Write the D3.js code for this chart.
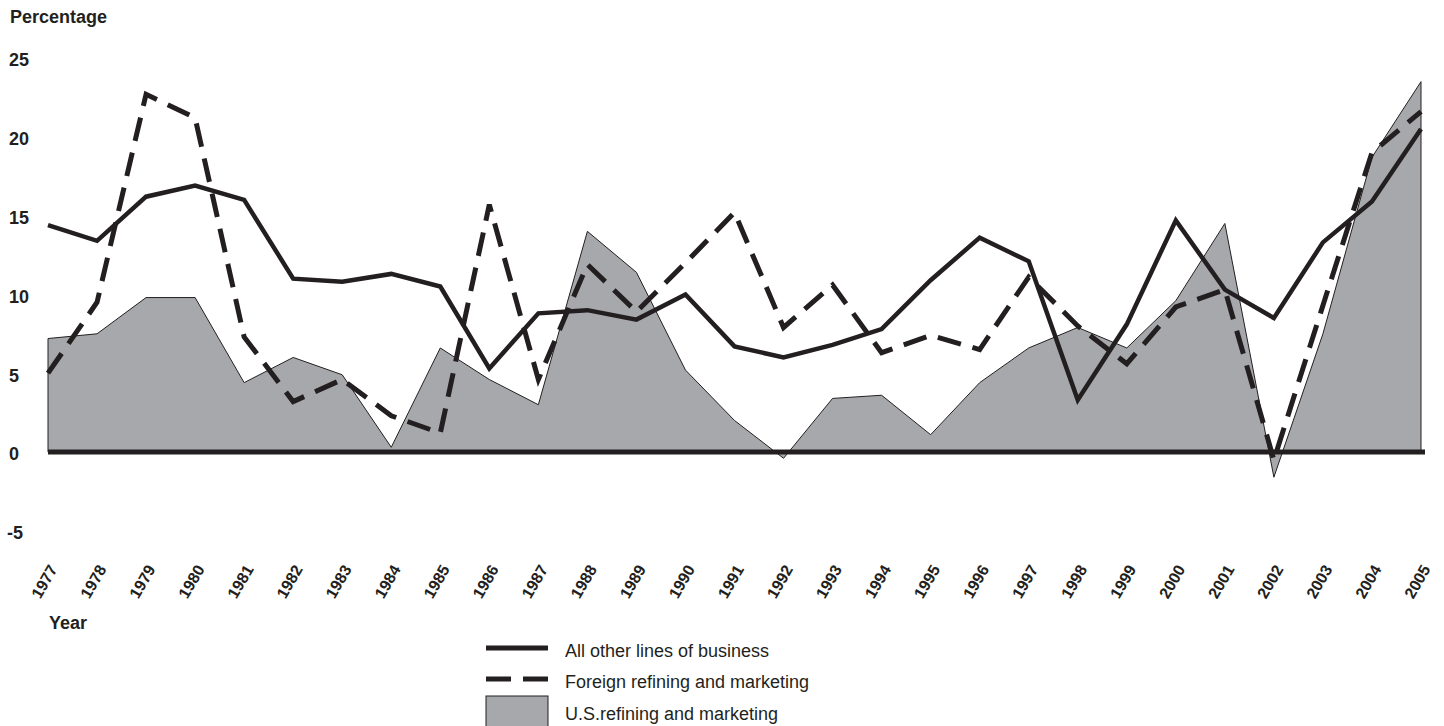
<!DOCTYPE html>
<meta charset="utf-8">
<style>
body { margin: 0; background: #fff; }
text { font-family: "Liberation Sans", Arial, sans-serif; fill: #231f20; }
.axis-label { font-size: 18px; font-weight: bold; }
.legend text { font-size: 18px; }
</style>
<body>
<script src="https://d3js.org/d3.v7.min.js"></script>
<script>

let width = 1444;
let height = 726;

// values
let years = [1977, 1978, 1979, 1980, 1981, 1982, 1983, 1984, 1985, 1986, 1987, 1988, 1989, 1990,
  1991, 1992, 1993, 1994, 1995, 1996, 1997, 1998, 1999, 2000, 2001, 2002, 2003, 2004, 2005];
let allOther = [14.4, 13.4, 16.2, 16.9, 16.0, 11.0, 10.8, 11.3, 10.5, 5.3, 8.8, 9.0, 8.4, 10.0,
  6.7, 6.0, 6.8, 7.8, 10.9, 13.6, 12.1, 3.3, 8.1, 14.7, 10.3, 8.5, 13.3, 15.9, 20.5];
let foreign = [5.0, 9.5, 22.7, 21.2, 7.3, 3.2, 4.6, 2.3, 1.2, 15.7, 4.6, 11.9, 8.9, 12.0,
  15.2, 7.9, 10.6, 6.3, 7.4, 6.5, 11.1, 8.0, 5.6, 9.2, 10.3, -0.5, 9.3, 19.0, 21.6];
let usRefining = [7.2, 7.5, 9.8, 9.8, 4.4, 6.0, 4.9, 0.3, 6.6, 4.6, 3.0, 14.0, 11.4, 5.2,
  2.0, -0.4, 3.4, 3.6, 1.1, 4.4, 6.6, 7.9, 6.6, 9.6, 14.5, -1.6, 7.5, 18.7, 23.5];
let yTicks = [25, 20, 15, 10, 5, 0, -5];
let legendLabels = ["All other lines of business", "Foreign refining and marketing", "U.S.refining and marketing"];

let ink = "#231f20";

let svg = d3.select("body").append("svg")
    .attr("width", width)
    .attr("height", height);

let x = d3.scaleLinear().domain([1977, 2005]).range([48, 1421]);
let y = d3.scaleLinear().domain([-5, 25]).range([530.8, 58]);

let rows = years.map((yr, i) => ({year: yr, other: allOther[i], foreign: foreign[i], us: usRefining[i]}));

// shaded area
let area = d3.area()
    .x(d => x(d.year))
    .y0(y(0))
    .y1(d => y(d.us));

svg.append("path")
    .datum(rows)
    .attr("d", area)
    .attr("fill", "#a7a8ab")
    .attr("stroke", ink)
    .attr("stroke-width", 1);

// zero line
svg.append("line")
    .attr("x1", x(1977))
    .attr("x2", x(2005) + 4)
    .attr("y1", y(0))
    .attr("y2", y(0))
    .attr("stroke", ink)
    .attr("stroke-width", 5);

let line = key => d3.line().x(d => x(d.year)).y(d => y(d[key]));

svg.append("path")
    .datum(rows)
    .attr("d", line("foreign"))
    .attr("fill", "none")
    .attr("stroke", ink)
    .attr("stroke-width", 5)
    .attr("stroke-dasharray", "24,12");

svg.append("path")
    .datum(rows)
    .attr("d", line("other"))
    .attr("fill", "none")
    .attr("stroke", ink)
    .attr("stroke-width", 4.5);

// y labels
svg.append("text")
    .attr("class", "axis-label")
    .attr("x", 10)
    .attr("y", 23)
    .text("Percentage");

svg.selectAll(".ytick")
  .data(yTicks)
  .enter().append("text")
    .attr("class", "axis-label ytick")
    .attr("x", d => d < 0 ? 7 : 9)
    .attr("y", d => y(d) + 2)
    .attr("dy", "0.35em")
    .text(d => d);

// x labels
svg.selectAll(".xtick")
  .data(years)
  .enter().append("text")
    .attr("class", "axis-label xtick")
    .attr("text-anchor", "end")
    .attr("transform", d => `translate(${x(d) + 10},569) rotate(-60)`)
    .style("font-size", "16px")
    .text(d => d);

svg.append("text")
    .attr("class", "axis-label")
    .attr("x", 49)
    .attr("y", 629)
    .text("Year");

// legend
let legend = svg.append("g").attr("class", "legend");
let ly = [648, 679, 711];

legend.append("line")
    .attr("x1", 486).attr("x2", 548)
    .attr("y1", ly[0]).attr("y2", ly[0])
    .attr("stroke", ink).attr("stroke-width", 5);

legend.append("line")
    .attr("x1", 486).attr("x2", 548)
    .attr("y1", ly[1]).attr("y2", ly[1])
    .attr("stroke", ink).attr("stroke-width", 5)
    .attr("stroke-dasharray", "25,12");

legend.append("rect")
    .attr("x", 486).attr("y", 696)
    .attr("width", 62).attr("height", 32)
    .attr("fill", "#a7a8ab")
    .attr("stroke", ink).attr("stroke-width", 1);

legend.selectAll(".ltext")
  .data(legendLabels)
  .enter().append("text")
    .attr("x", 565)
    .attr("y", (d, i) => ly[i] + 3)
    .attr("dy", "0.35em")
    .text(d => d);

</script>
